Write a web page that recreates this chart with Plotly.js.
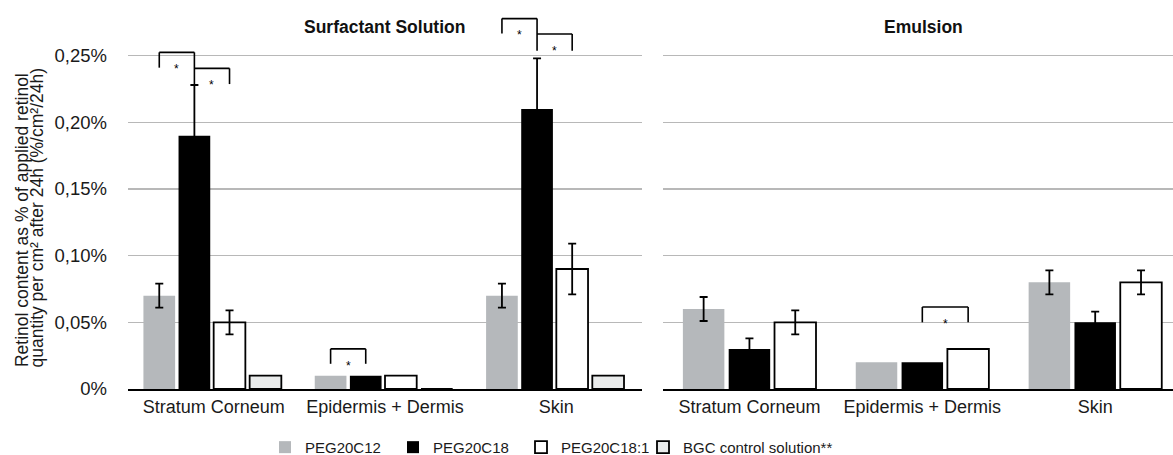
<!DOCTYPE html>
<html><head><meta charset="utf-8">
<script src="https://cdn.plot.ly/plotly-3.0.1.min.js"></script>
<style>html,body{margin:0;padding:0;background:#fff}</style>
</head><body>
<div id="chart" style="width:1173px;height:455px"></div>
<script>
// ---------- DATA ----------
const categories = ["Stratum Corneum", "Epidermis + Dermis", "Skin"];
const seriesNames = ["PEG20C12", "PEG20C18", "PEG20C18:1", "BGC control solution**"];
const panelTitles = ["Surfactant Solution", "Emulsion"];

// Surfactant solution (left panel), % of applied retinol per cm²
const solC12 = [0.07, 0.01, 0.07];
const solC12Err = [0.009, null, 0.009];
const solC18 = [0.19, 0.01, 0.21];
const solC18Err = [0.038, null, 0.038];
const solC181 = [0.05, 0.01, 0.09];
const solC181Err = [0.009, null, 0.019];
const solBGC = [0.01, 0, 0.01];

// Emulsion (right panel)
const emuC12 = [0.06, 0.02, 0.08];
const emuC12Err = [0.009, null, 0.009];
const emuC18 = [0.03, 0.02, 0.05];
const emuC18Err = [0.008, null, 0.008];
const emuC181 = [0.05, 0.03, 0.08];
const emuC181Err = [0.009, null, 0.009];

const yTickVals = [0, 0.05, 0.10, 0.15, 0.20, 0.25];
const yTickText = ["0%", "0,05%", "0,10%", "0,15%", "0,20%", "0,25%"];

// significance brackets (panel, category index, bar A, bar B, top, leg A bottom, leg B bottom)
const sigPanel = ["sol", "sol", "sol", "sol", "sol", "emu"];
const sigCat   = [0, 0, 1, 2, 2, 1];
const sigBarA  = [0, 1, 0, 0, 1, 1];
const sigBarB  = [1, 2, 1, 1, 2, 2];
const sigTop   = [0.2525, 0.2405, 0.0301, 0.2778, 0.2662, 0.0615];
const sigLegA  = [0.241, 0.2405, 0.0189, 0.2666, 0.2662, 0.050];
const sigLegB  = [0.228, 0.2287, 0.0189, 0.2537, 0.2537, 0.050];
const sigLabel = ["*", "*", "*", "*", "*", "*"];

// ---------- STYLE ----------
const FONT = "Liberation Sans, Arial, Helvetica, sans-serif";
const colC12 = "#b5b8bb", colC18 = "#000000", colC181 = "#ffffff", colBGC = "#e9ebeb";
const solWidth = 0.185, solOffsets = [-0.41, -0.205, 0.0, 0.21];
const emuWidth = 0.24, emuOffsets = [-0.385, -0.12, 0.145];

const errStyle = (arr) => ({type: "data", array: arr.map(v => v == null ? NaN : v),
  visible: true, color: "#000", thickness: 1.8, width: 4});

function barTrace(name, y, err, color, lineW, xa, ya, width, offset, showLeg, legendId) {
  const t = {type: "bar", name: name, x: categories, y: y, xaxis: xa, yaxis: ya,
    width: width, offset: offset, showlegend: showLeg, legend: legendId || "legend",
    marker: {color: color, line: {color: "#000", width: lineW}}, hoverinfo: "y+name"};
  if (err) t.error_y = errStyle(err);
  return t;
}

const data = [
  barTrace(seriesNames[0], solC12, solC12Err, colC12, 0, "x", "y", solWidth, solOffsets[0], true),
  barTrace(seriesNames[1], solC18, solC18Err, colC18, 0, "x", "y", solWidth, solOffsets[1], true),
  barTrace(seriesNames[2], solC181, solC181Err, colC181, 1.8, "x", "y", solWidth, solOffsets[2], true),
  barTrace(seriesNames[3], solBGC, null, colBGC, 1.8, "x", "y", solWidth, solOffsets[3], true, "legend2"),
  barTrace(seriesNames[0], emuC12, emuC12Err, colC12, 0, "x2", "y2", emuWidth, emuOffsets[0], false),
  barTrace(seriesNames[1], emuC18, emuC18Err, colC18, 0, "x2", "y2", emuWidth, emuOffsets[1], false),
  barTrace(seriesNames[2], emuC181, emuC181Err, colC181, 1.8, "x2", "y2", emuWidth, emuOffsets[2], false)
];

const shapes = [], annotations = [];
for (let i = 0; i < sigCat.length; i++) {
  const sol = sigPanel[i] === "sol";
  const w = sol ? solWidth : emuWidth, offs = sol ? solOffsets : emuOffsets;
  const xa = sol ? "x" : "x2", ya = sol ? "y" : "y2";
  const xA = sigCat[i] + offs[sigBarA[i]] + w / 2;
  const xB = sigCat[i] + offs[sigBarB[i]] + w / 2;
  const ln = {color: "#000", width: 1.6};
  shapes.push({type: "line", xref: xa, yref: ya, x0: xA, x1: xB, y0: sigTop[i], y1: sigTop[i], line: ln});
  shapes.push({type: "line", xref: xa, yref: ya, x0: xA, x1: xA, y0: sigTop[i], y1: sigLegA[i], line: ln});
  shapes.push({type: "line", xref: xa, yref: ya, x0: xB, x1: xB, y0: sigTop[i], y1: sigLegB[i], line: ln});
  annotations.push({xref: xa, yref: ya, x: (xA + xB) / 2, y: sigTop[i] - 0.0125, text: sigLabel[i],
    showarrow: false, xanchor: "center", yanchor: "middle", font: {family: FONT, size: 12, color: "#000"}});
}

// panel titles
annotations.push({xref: "paper", yref: "paper", x: 384 / 1173, y: 0.9527, xanchor: "center", yanchor: "middle",
  text: "<b>" + panelTitles[0] + "</b>", showarrow: false, font: {family: FONT, size: 17.5, color: "#111"}});
annotations.push({xref: "paper", yref: "paper", x: 923 / 1173, y: 0.9527, xanchor: "center", yanchor: "middle",
  text: "<b>" + panelTitles[1] + "</b>", showarrow: false, font: {family: FONT, size: 17.5, color: "#111"}});
// y-axis title (two lines)
annotations.push({xref: "paper", yref: "paper", x: 21.5 / 1173, y: 0.0512, yanchor: "bottom", xanchor: "center",
  textangle: -90, text: "Retinol content as % of applied retinol", showarrow: false,
  font: {family: FONT, size: 17.5, color: "#1a1a1a"}});
annotations.push({xref: "paper", yref: "paper", x: 37 / 1173, y: 0.0512, yanchor: "bottom", xanchor: "center",
  textangle: -90, text: "quantity per cm² after 24h (%/cm²/24h)", showarrow: false,
  font: {family: FONT, size: 17.5, color: "#1a1a1a"}});

const yAxisBase = {range: [0, 0.285], tickvals: yTickVals, ticktext: yTickText, showgrid: true,
  gridcolor: "#b8b8b8", gridwidth: 1.5, zeroline: false, showline: false, ticks: "",
  tickfont: {family: FONT, size: 18.5, color: "#1a1a1a"}, fixedrange: true};
const xAxisBase = {type: "category", showline: true, linecolor: "#000", linewidth: 2, ticks: "",
  tickfont: {family: FONT, size: 18, color: "#1a1a1a"}, showgrid: false, fixedrange: true};

const legendFont = {family: FONT, size: 15, color: "#1a1a1a"};
const layout = {
  width: 1173, height: 455,
  margin: {l: 0, r: 0, t: 9, b: 65.5, autoexpand: false},
  paper_bgcolor: "#fff", plot_bgcolor: "rgba(0,0,0,0)",
  barmode: "group",
  xaxis: Object.assign({}, xAxisBase, {domain: [128 / 1173, 642 / 1173], range: [-0.5, 2.5], anchor: "y"}),
  xaxis2: Object.assign({}, xAxisBase, {domain: [663 / 1173, 1], range: [-0.5, 2.45], anchor: "y2"}),
  yaxis: Object.assign({}, yAxisBase, {anchor: "x", ticklabelstandoff: 20}),
  yaxis2: Object.assign({}, yAxisBase, {anchor: "x2", matches: "y", showticklabels: false}),
  showlegend: true,
  legend: {orientation: "h", x: 265 / 1173, xanchor: "left", y: -0.1537, yanchor: "middle",
    entrywidth: 83, entrywidthmode: "pixels", font: legendFont,
    bgcolor: "rgba(0,0,0,0)", traceorder: "normal"},
  legend2: {orientation: "h", x: 643 / 1173, xanchor: "left", y: -0.1537, yanchor: "middle",
    font: legendFont, bgcolor: "rgba(0,0,0,0)"},
  shapes: shapes,
  annotations: annotations
};

Plotly.newPlot("chart", data, layout, {displayModeBar: false, staticPlot: true});
</script>
</body></html>
